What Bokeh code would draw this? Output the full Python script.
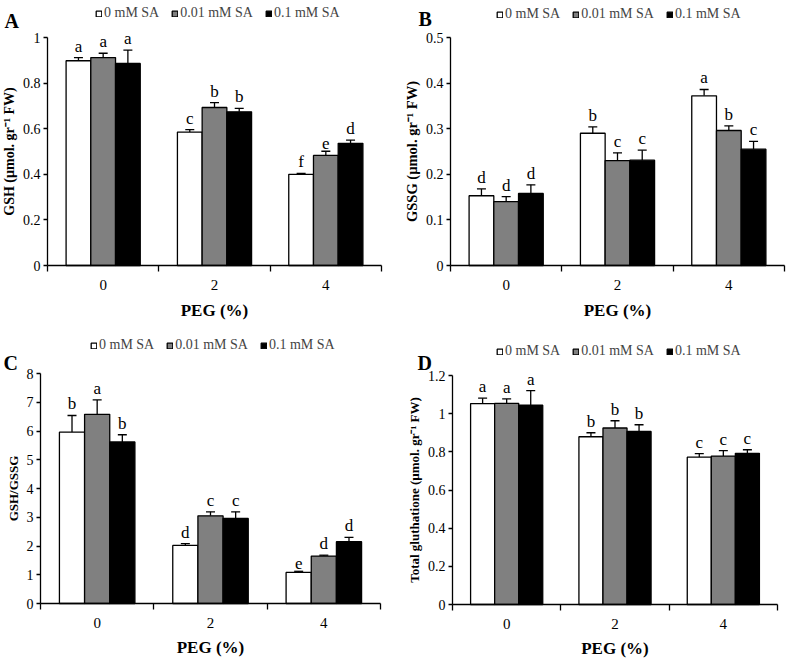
from bokeh.plotting import figure
from bokeh.layouts import gridplot
from bokeh.models import (FixedTicker, Legend, LegendItem, Label, ColumnDataSource,
                          Whisker, TeeHead, Range1d)
from bokeh.embed import file_html
from bokeh.resources import INLINE
from bokeh.core.properties import value

# ---------------- data ----------------
peg_labels = ["0", "2", "4"]
series_names = ["0 mM SA", "0.01 mM SA", "0.1 mM SA"]
series_fill = ["white", "#808080", "black"]

# A: GSH
gsh_0mM = [0.898, 0.585, 0.400]
gsh_001mM = [0.912, 0.693, 0.483]
gsh_01mM = [0.886, 0.674, 0.536]
gsh_err_0mM = [0.014, 0.011, 0.004]
gsh_err_001mM = [0.019, 0.021, 0.018]
gsh_err_01mM = [0.059, 0.015, 0.014]
gsh_let_0mM = ["a", "c", "f"]
gsh_let_001mM = ["a", "b", "e"]
gsh_let_01mM = ["a", "b", "d"]
gsh_ticks = [0, 0.2, 0.4, 0.6, 0.8, 1]
gsh_tick_labels = ["0", "0.2", "0.4", "0.6", "0.8", "1"]

# B: GSSG
gssg_0mM = [0.153, 0.290, 0.372]
gssg_001mM = [0.140, 0.230, 0.296]
gssg_01mM = [0.158, 0.231, 0.255]
gssg_err_0mM = [0.015, 0.014, 0.014]
gssg_err_001mM = [0.011, 0.017, 0.010]
gssg_err_01mM = [0.019, 0.022, 0.017]
gssg_let_0mM = ["d", "b", "a"]
gssg_let_001mM = ["d", "c", "b"]
gssg_let_01mM = ["d", "c", "c"]
gssg_ticks = [0, 0.1, 0.2, 0.3, 0.4, 0.5]
gssg_tick_labels = ["0", "0.1", "0.2", "0.3", "0.4", "0.5"]

# C: GSH/GSSG
ratio_0mM = [5.96, 2.02, 1.08]
ratio_001mM = [6.58, 3.05, 1.65]
ratio_01mM = [5.62, 2.96, 2.15]
ratio_err_0mM = [0.58, 0.06, 0.04]
ratio_err_001mM = [0.50, 0.14, 0.03]
ratio_err_01mM = [0.25, 0.23, 0.15]
ratio_let_0mM = ["b", "d", "e"]
ratio_let_001mM = ["a", "c", "d"]
ratio_let_01mM = ["b", "c", "d"]
ratio_ticks = [0, 1, 2, 3, 4, 5, 6, 7, 8]
ratio_tick_labels = ["0", "1", "2", "3", "4", "5", "6", "7", "8"]

# D: Total glutathione
total_0mM = [1.053, 0.879, 0.772]
total_001mM = [1.054, 0.925, 0.778]
total_01mM = [1.044, 0.907, 0.792]
total_err_0mM = [0.028, 0.021, 0.019]
total_err_001mM = [0.023, 0.038, 0.028]
total_err_01mM = [0.077, 0.035, 0.019]
total_let_0mM = ["a", "b", "c"]
total_let_001mM = ["a", "b", "c"]
total_let_01mM = ["a", "b", "c"]
total_ticks = [0, 0.2, 0.4, 0.6, 0.8, 1.0, 1.2]
total_tick_labels = ["0", "0.2", "0.4", "0.6", "0.8", "1", "1.2"]

FONT = "Liberation Serif"
BAR_W = 0.222
OFFSETS = [-BAR_W, 0.0, BAR_W]


def make_panel(letter, ylabel, ylabel_size, means, errs, lets, ticks, tick_labels,
               W, H, ax_l, ax_r, ax_t, ax_b, leg_x, leg_y, let_x, let_y, xlab_standoff):
    ymax = ticks[-1]
    ppx = (ax_r - ax_l) / 3.0
    ppy = (ax_b - ax_t) / ymax
    xr = Range1d(0.5 - ax_l / ppx, 3.5 + (W - ax_r) / ppx)
    yr = Range1d(-(H - ax_b) / ppy, ymax + ax_t / ppy)
    p = figure(width=W, height=H, x_range=xr, y_range=yr,
               output_backend="svg", toolbar_location=None,
               min_border=0, min_border_left=0, min_border_right=0,
               min_border_top=0, min_border_bottom=0)
    p.xgrid.visible = False
    p.ygrid.visible = False
    p.outline_line_color = None
    p.background_fill_color = "white"
    p.border_fill_color = "white"

    items = []
    for k in range(3):
        xs = [i + 1 + OFFSETS[k] for i in range(3)]
        upper = [m + e for m, e in zip(means[k], errs[k])]
        src = ColumnDataSource(dict(x=xs, top=means[k], upper=upper, let=lets[k]))
        r = p.vbar(x="x", top="top", width=BAR_W, fill_color=series_fill[k],
                   line_color="black", line_width=1.3, source=src)
        w = Whisker(source=src, base="x", lower="top", upper="upper",
                    dimension="height", line_color="black", line_width=1.3,
                    upper_head=TeeHead(size=9, line_color="black", line_width=1.3),
                    lower_head=None)
        p.add_layout(w)
        p.text(x="x", y="upper", text="let", source=src, text_align="center",
               text_baseline="bottom", y_offset=-2, text_font=value(FONT),
               text_font_size="17px", text_color="black")
        items.append(LegendItem(label=series_names[k], renderers=[r]))

    leg = Legend(items=items, orientation="horizontal", location=(leg_x, leg_y),
                 glyph_width=7, glyph_height=7, label_standoff=2, spacing=12,
                 padding=0, margin=0, border_line_color=None,
                 background_fill_alpha=0, label_text_font=FONT,
                 label_text_font_size="14px", label_height=14)
    p.add_layout(leg)

    p.add_layout(Label(x=let_x, y=let_y, x_units="screen", y_units="screen",
                       text=letter, text_font=FONT, text_font_style="bold",
                       text_font_size="20px", text_color="black",
                       text_baseline="alphabetic"))

    # x axis
    xa = p.xaxis[0]
    xa.fixed_location = 0
    xa.bounds = (0.5, 3.5)
    xa.ticker = FixedTicker(ticks=[1, 2, 3], minor_ticks=[0.5, 1.5, 2.5, 3.5])
    xa.major_label_overrides = {1: peg_labels[0], 2: peg_labels[1], 3: peg_labels[2]}
    xa.major_tick_out = 0
    xa.major_tick_in = 0
    xa.minor_tick_out = 6
    xa.minor_tick_in = 0
    xa.minor_tick_line_color = "black"
    xa.minor_tick_line_width = 1.3
    xa.axis_line_color = "black"
    xa.axis_line_width = 1.3
    xa.major_label_standoff = 8
    xa.major_label_text_font = FONT
    xa.major_label_text_font_size = "15px"
    xa.major_label_text_color = "black"
    xa.axis_label = "PEG (%)"
    xa.axis_label_text_font = FONT
    xa.axis_label_text_font_style = "bold"
    xa.axis_label_text_font_size = "17px"
    xa.axis_label_text_color = "black"
    xa.axis_label_standoff = xlab_standoff

    # y axis
    ya = p.yaxis[0]
    ya.fixed_location = 0.5
    ya.bounds = (0, ymax)
    ya.ticker = FixedTicker(ticks=ticks)
    ya.major_label_overrides = {t: l for t, l in zip(ticks, tick_labels)}
    ya.major_tick_out = 4
    ya.major_tick_in = 0
    ya.major_tick_line_width = 1.3
    ya.minor_tick_line_color = None
    ya.axis_line_color = "black"
    ya.axis_line_width = 1.3
    ya.major_label_standoff = 3
    ya.major_label_text_font = FONT
    ya.major_label_text_font_size = "14px"
    ya.major_label_text_color = "black"
    ya.axis_label = ylabel
    ya.axis_label_text_font = FONT
    ya.axis_label_text_font_style = "bold"
    ya.axis_label_text_font_size = ylabel_size
    ya.axis_label_text_color = "black"
    ya.axis_label_standoff = 3
    return p


pA = make_panel("A", "GSH (µmol. gr⁻¹ FW)", "14px",
                [gsh_0mM, gsh_001mM, gsh_01mM],
                [gsh_err_0mM, gsh_err_001mM, gsh_err_01mM],
                [gsh_let_0mM, gsh_let_001mM, gsh_let_01mM],
                gsh_ticks, gsh_tick_labels,
                390, 330, 47, 381, 37, 265, 95, 309, 4, 310, 8)
pB = make_panel("B", "GSSG (µmol. gr⁻¹ FW)", "14.5px",
                [gssg_0mM, gssg_001mM, gssg_01mM],
                [gssg_err_0mM, gssg_err_001mM, gssg_err_01mM],
                [gssg_let_0mM, gssg_let_001mM, gssg_let_01mM],
                gssg_ticks, gssg_tick_labels,
                396, 330, 60, 394, 37, 265, 106, 308, 28, 312, 8)
pC = make_panel("C", "GSH/GSSG", "13px",
                [ratio_0mM, ratio_001mM, ratio_01mM],
                [ratio_err_0mM, ratio_err_001mM, ratio_err_01mM],
                [ratio_let_0mM, ratio_let_001mM, ratio_let_01mM],
                ratio_ticks, ratio_tick_labels,
                390, 331, 40, 380, 43, 273, 90, 308, 3, 299, 7)
pD = make_panel("D", "Total gluthatione (µmol. gr⁻¹ FW)", "13px",
                [total_0mM, total_001mM, total_01mM],
                [total_err_0mM, total_err_001mM, total_err_01mM],
                [total_let_0mM, total_let_001mM, total_let_01mM],
                total_ticks, total_tick_labels,
                396, 331, 62, 387, 45, 274, 106, 302, 27, 299, 7)

grid = gridplot([[pA, pB], [pC, pD]], toolbar_location=None)
open("out.html", "w").write(file_html(grid, INLINE))
